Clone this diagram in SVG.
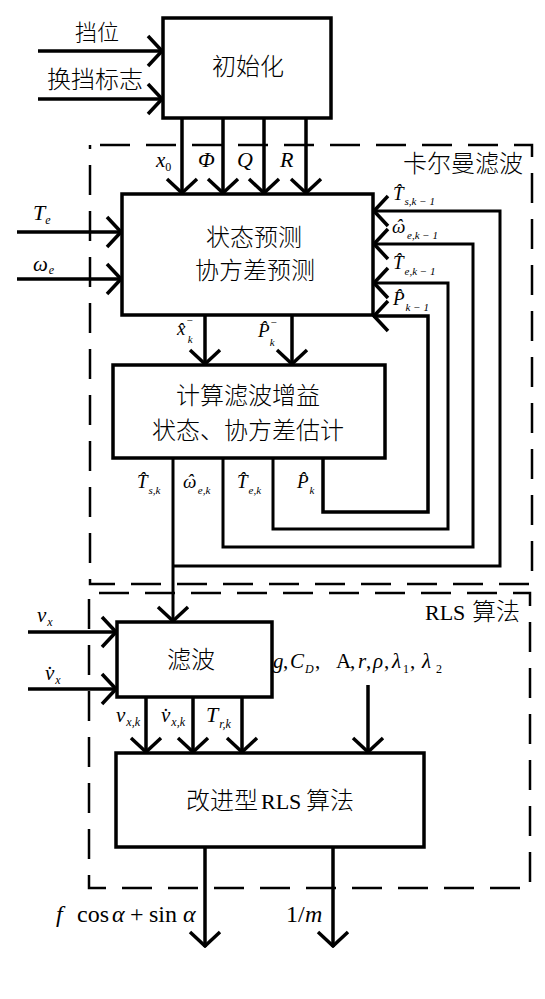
<svg xmlns="http://www.w3.org/2000/svg" width="545" height="999" viewBox="0 0 545 999">
<defs>
<style>
.box{fill:#fff;stroke:#000;stroke-width:3.5}
.ln{fill:none;stroke:#000;stroke-width:3.5;stroke-linejoin:miter}
.thin{stroke-width:3}
.arr{marker-end:url(#ah)}
.dash{fill:none;stroke:#000;stroke-width:2.5;stroke-dasharray:30 16;stroke-dashoffset:36}
.cjk{font-family:"Noto Sans CJK SC","Noto Sans CJK JP",sans-serif;font-weight:300;fill:#000}
.ser{font-family:"Liberation Serif","Times New Roman",serif;fill:#000}
.m{font-family:"Liberation Serif","Times New Roman",serif;font-style:italic;fill:#000}
.u{font-style:normal}
</style>
<marker id="ah" viewBox="-17 -17 19 34" refX="1" refY="0" markerWidth="19" markerHeight="34" markerUnits="userSpaceOnUse" orient="auto">
<path d="M-14,-15 L0,0 L-14,15" fill="none" stroke="#000" stroke-width="3.5"/>
</marker>
</defs>
<rect width="545" height="999" fill="#fff"/>

<g id="kalman-region">
<rect class="dash" x="90" y="145" width="442" height="439"/>
<text class="cjk" x="523" y="172" font-size="24" text-anchor="end">卡尔曼滤波</text>
</g>
<g id="rls-region">
<rect class="dash" x="89" y="593" width="441" height="295"/>
<text y="620"><tspan class="ser" x="425" font-size="22">RLS</tspan><tspan class="cjk" x="472" font-size="24">算法</tspan></text>
</g>

<g id="connectors">
<path class="ln arr" d="M38,51 H163"/>
<path class="ln arr" d="M38,99 H163"/>
<path class="ln arr" d="M182,118 V194"/>
<path class="ln arr" d="M223,118 V194"/>
<path class="ln arr" d="M264,118 V194"/>
<path class="ln arr" d="M306,118 V194"/>
<path class="ln arr" d="M17,232 H122"/>
<path class="ln arr" d="M17,279 H122"/>
<path class="ln arr" d="M205,315 V365"/>
<path class="ln arr" d="M292,315 V365"/>
<path class="ln thin arr" d="M173,566 H500 V211 H373"/>
<path class="ln thin arr" d="M223,458 V547 H473 V244 H373"/>
<path class="ln thin arr" d="M273,458 V529 H448 V283 H373"/>
<path class="ln arr" d="M323,458 V512 H428 V316 H373"/>
<path class="ln thin arr" d="M173,458 V622"/>
<path class="ln arr" d="M28,632 H117"/>
<path class="ln arr" d="M28,689 H117"/>
<path class="ln arr" d="M146,697 V753"/>
<path class="ln arr" d="M193,697 V753"/>
<path class="ln arr" d="M242,697 V753"/>
<path class="ln arr" d="M368,685 V753"/>
<path class="ln arr" d="M205,847 V947"/>
<path class="ln arr" d="M333,847 V947"/>
</g>

<g id="labels">
<text class="cjk" x="97" y="40" font-size="22" text-anchor="middle">挡位</text>
<text class="cjk" x="95" y="88" font-size="24" text-anchor="middle">换挡标志</text>
<text class="m" x="156" y="167" font-size="21">x<tspan class="u" dx="0" dy="4" font-size="12">0</tspan></text>
<text class="m" x="198" y="167" font-size="22">Φ</text>
<text class="m" x="237" y="167" font-size="22">Q</text>
<text class="m" x="280" y="167" font-size="22">R</text>
<text class="m" x="33" y="220" font-size="22">T<tspan dx="0" dy="4" font-size="12">e</tspan></text>
<text class="m" x="33" y="271" font-size="21">ω<tspan dx="1" dy="3" font-size="12">e</tspan></text>
<text class="m" x="393" y="200" font-size="19">T̂<tspan dx="1" dy="5" font-size="11">s,k − 1</tspan></text>
<text class="m" x="392" y="233" font-size="19" dx="0 -9.4" dy="0 -1">ωˆ<tspan dx="4.7" dy="7" font-size="11">e,k − 1</tspan></text>
<text class="m" x="393" y="269" font-size="19">T̂<tspan dx="1" dy="6" font-size="11">e,k − 1</tspan></text>
<text class="m" x="393" y="305" font-size="19">P̂<tspan dx="1" dy="6" font-size="11">k − 1</tspan></text>
<text class="m" x="177" y="335" font-size="19">x̂<tspan class="u" dx="1" dy="-11" font-size="11">−</tspan><tspan dx="-5" dy="19" font-size="11">k</tspan></text>
<text class="m" x="258" y="337" font-size="19">P̂<tspan class="u" dx="1" dy="-11" font-size="11">−</tspan><tspan dx="-7" dy="20" font-size="11">k</tspan></text>
<text class="m" x="137" y="488" font-size="19">T̂<tspan dx="1" dy="6" font-size="11">s,k</tspan></text>
<text class="m" x="183" y="488" font-size="19" dx="0 -9.4" dy="0 -1">ωˆ<tspan dx="4.5" dy="7" font-size="11">e,k</tspan></text>
<text class="m" x="237" y="488" font-size="19">T̂<tspan dx="1" dy="6" font-size="11">e,k</tspan></text>
<text class="m" x="297" y="488" font-size="19">P̂<tspan dx="1" dy="6" font-size="11">k</tspan></text>
<text class="m" x="37" y="622" font-size="21">v<tspan dx="1" dy="4" font-size="12">x</tspan></text>
<text class="m" x="45" y="680" font-size="21">v̇<tspan dx="1" dy="4" font-size="12">x</tspan></text>
<text class="m" x="116" y="722" font-size="21">v<tspan dx="1" dy="4" font-size="12">x,k</tspan></text>
<text class="m" x="161" y="722" font-size="21">v̇<tspan dx="1" dy="4" font-size="12">x,k</tspan></text>
<text class="m" x="206" y="722" font-size="22">T<tspan dx="1" dy="6" font-size="12">r,k</tspan></text>
<text class="m" y="668" font-size="21"><tspan x="273">g</tspan><tspan x="283" class="u">,</tspan><tspan x="290">C</tspan><tspan x="305" y="673" font-size="12">D</tspan><tspan x="315" y="668" class="u">,</tspan><tspan x="336" class="u">Α</tspan><tspan x="350" class="u">,</tspan><tspan x="358">r</tspan><tspan x="366" class="u">,</tspan><tspan x="373">ρ</tspan><tspan x="384" class="u">,</tspan><tspan x="392">λ</tspan><tspan x="403" y="673" font-size="12" class="u">1</tspan><tspan x="410" y="668" class="u">,</tspan><tspan x="422">λ</tspan><tspan x="436" y="673" font-size="12" class="u">2</tspan></text>
<text class="m" y="922" font-size="24"><tspan x="56">f</tspan><tspan x="77" class="u">cos</tspan><tspan x="112">α</tspan><tspan x="130" class="u">+</tspan><tspan x="149" class="u">sin</tspan><tspan x="183">α</tspan></text>
<text class="m" y="922" font-size="24"><tspan x="286" class="u">1/</tspan><tspan x="305">m</tspan></text>
</g>

<g id="init">
<rect class="box" x="163" y="18" width="168" height="100"/>
<text class="cjk" x="248" y="75" font-size="24" text-anchor="middle">初始化</text>
</g>
<g id="predict">
<rect class="box" x="122" y="194" width="251" height="121"/>
<text class="cjk" x="254" y="246" font-size="24" text-anchor="middle">状态预测</text>
<text class="cjk" x="255" y="279" font-size="24" text-anchor="middle">协方差预测</text>
</g>
<g id="gain">
<rect class="box" x="113" y="365" width="272" height="93"/>
<text class="cjk" x="248" y="404" font-size="24" text-anchor="middle">计算滤波增益</text>
<text class="cjk" x="248" y="439" font-size="24" text-anchor="middle">状态、协方差估计</text>
</g>
<g id="filter">
<rect class="box" x="117" y="622" width="155" height="75"/>
<text class="cjk" x="191" y="668" font-size="24" text-anchor="middle">滤波</text>
</g>
<g id="rls">
<rect class="box" x="116" y="753" width="308" height="94"/>
<text y="809"><tspan class="cjk" x="186" font-size="24">改进型</tspan><tspan class="ser" x="261" font-size="22">RLS</tspan><tspan class="cjk" x="306" font-size="24">算法</tspan></text>
</g>
</svg>
